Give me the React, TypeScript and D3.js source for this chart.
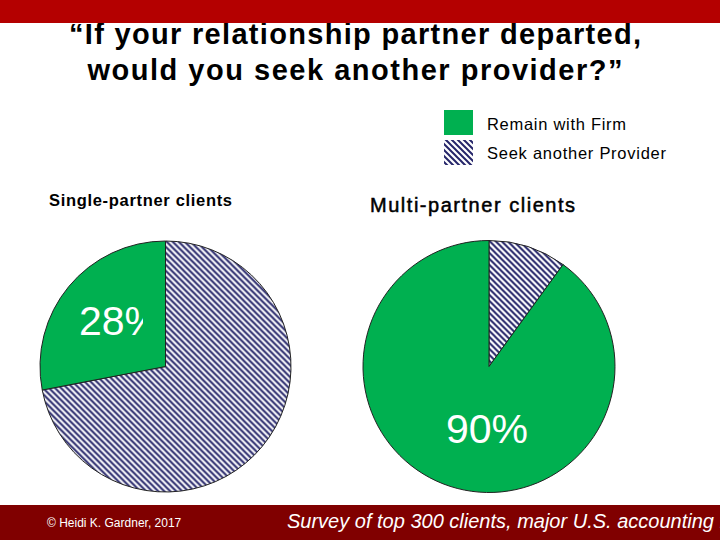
import React from "react";
import * as d3 from "d3";

const categories = ["Seek another Provider", "Remain with Firm"];
const singlePartner = [72, 28];
const multiPartner = [10, 90];
const pieTitles = ["Single-partner clients", "Multi-partner clients"];
const titleLines = ["\u201CIf your relationship partner departed,", "would you seek another provider?\u201D"];

const W = 720, H = 540;
const GREEN = "#00B050";
const NAVY = "#26266A";

function Pie({ cx, cy, r, values }: { cx: number; cy: number; r: number; values: number[] }) {
  const pie = d3.pie<number>().sort(null).value((d) => d);
  const arcs = pie(values);
  const arc = d3.arc<d3.PieArcDatum<number>>().innerRadius(0).outerRadius(r);
  return (
    <g transform={`translate(${cx},${cy})`}>
      {arcs.map((a, i) => (
        <path
          key={i}
          d={arc(a) || ""}
          fill={i === 0 ? "url(#hatch)" : GREEN}
          stroke="#222"
          strokeWidth={1}
        />
      ))}
    </g>
  );
}

export default function App() {
  const rL = 125.5, rR = 126;
  const cL = { x: 165.5, y: 366.5 };
  const cR = { x: 489, y: 366.5 };
  const titleWidths = [572, 535];
  return (
    <svg width={W} height={H} style={{ position: "absolute", left: 0, top: 0, fontFamily: "Liberation Sans, Arial, sans-serif" }}>
      <defs>
        <pattern id="hatch" patternUnits="userSpaceOnUse" width={6} height={6}>
          <rect width={6} height={6} fill="#fff" />
          <path d="M-1,-1 L7,7 M-1,5 L1,7 M5,-1 L7,1" stroke={NAVY} strokeWidth={2} />
        </pattern>
        <clipPath id="clip28">
          <rect x={60} y={290} width={83} height={60} />
        </clipPath>
      </defs>
      <rect width={W} height={H} fill="#fff" />
      {titleLines.map((t, i) => (
        <text key={i} x={355} y={44 + i * 36} textAnchor="middle" fontSize={29} fontWeight="bold" fill="#000"
          textLength={titleWidths[i]} lengthAdjust="spacing">
          {t}
        </text>
      ))}
      <rect x={0} y={0} width={W} height={23} fill="#B40000" />

      {/* legend */}
      <rect x={444} y={110} width={29} height={25} fill={GREEN} />
      <rect x={444} y={140} width={29} height={25} fill="url(#hatch)" />
      <text x={487} y={130} fontSize={16.5} fill="#000" textLength={139} lengthAdjust="spacing">{categories[1]}</text>
      <text x={487} y={159} fontSize={16.5} fill="#000" textLength={179} lengthAdjust="spacing">{categories[0]}</text>

      <text x={49} y={206} fontSize={16.5} fontWeight="bold" fill="#000" textLength={183} lengthAdjust="spacing">{pieTitles[0]}</text>
      <text x={370} y={212} fontSize={20} fill="#000" stroke="#000" strokeWidth={0.5} textLength={205} lengthAdjust="spacing">{pieTitles[1]}</text>

      <Pie cx={cL.x} cy={cL.y} r={rL} values={singlePartner} />
      <Pie cx={cR.x} cy={cR.y} r={rR} values={multiPartner} />

      <g clipPath="url(#clip28)">
        <text x={79} y={335} fontSize={41} fill="#fff">{singlePartner[1]}%</text>
      </g>
      <text x={446} y={443} fontSize={41} fill="#fff">{multiPartner[1]}%</text>

      <rect x={0} y={505} width={W} height={35} fill="#800000" />
      <text x={47} y={527} fontSize={12} fill="#fff">© Heidi K. Gardner, 2017</text>
      <text x={287} y={528} fontSize={20} fontStyle="italic" fill="#fff">Survey of top 300 clients, major U.S. accounting firm</text>
    </svg>
  );
}
